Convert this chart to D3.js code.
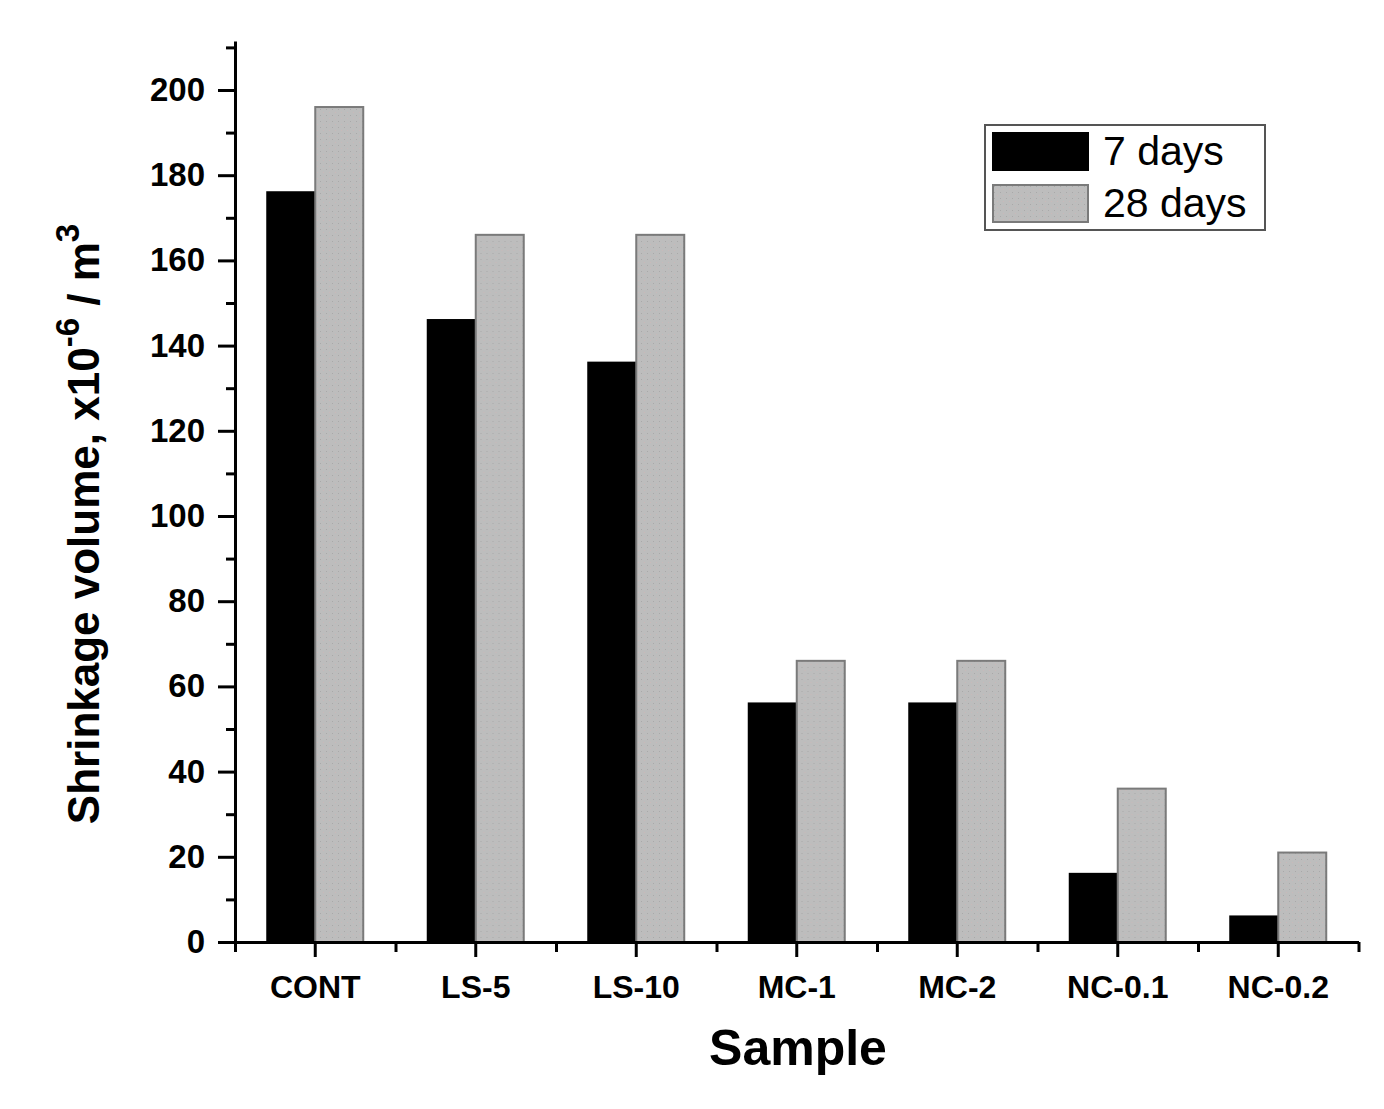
<!DOCTYPE html>
<html>
<head>
<meta charset="utf-8">
<script src="https://cdn.jsdelivr.net/npm/d3@7"></script>
<style>
  body { margin: 0; background: #fff; }
  svg text { font-family: "Liberation Sans", Arial, sans-serif; }
</style>
</head>
<body>
<div id="chart-area"></div>
<script>
/*
*    shrinkage bar chart
*/

var categories = ["CONT", "LS-5", "LS-10", "MC-1", "MC-2", "NC-0.1", "NC-0.2"];
var series = ["7 days", "28 days"];
var days7 = [176, 146, 136, 56, 56, 16, 6];
var days28 = [196, 166, 166, 66, 66, 36, 21];
var yMajorTicks = [0, 20, 40, 60, 80, 100, 120, 140, 160, 180, 200];
var yMinorTicks = [10, 30, 50, 70, 90, 110, 130, 150, 170, 190, 210];

var svg = d3.select("#chart-area").append("svg")
    .attr("width", 1384)
    .attr("height", 1109);

// dotted grey fill, like the original
var defs = svg.append("defs");
var pat = defs.append("pattern")
    .attr("id", "dots")
    .attr("width", 6)
    .attr("height", 6)
    .attr("patternUnits", "userSpaceOnUse");
pat.append("rect").attr("width", 6).attr("height", 6).attr("fill", "#bdbdbd");
pat.append("rect").attr("x", 1).attr("y", 1).attr("width", 1).attr("height", 1).attr("fill", "#a9a9a9");
pat.append("rect").attr("x", 4).attr("y", 4).attr("width", 1).attr("height", 1).attr("fill", "#c9b9b9");

var colors = ["#000000", "url(#dots)"];
var strokes = ["#000000", "#7a7a7a"];

var plotLeft = 235, plotRight = 1358.5, plotTop = 41, plotBottom = 942;

var y = d3.scaleLinear().domain([0, 211.5]).range([plotBottom, plotTop]);
var x = d3.scaleBand().domain(categories).range([plotLeft, plotRight]).padding(0);
var xSub = d3.scaleBand().domain(series).range([0, x.bandwidth()])
    .paddingInner(0).paddingOuter(0.672);
var xEdge = d3.scaleLinear().domain([0, categories.length]).range([plotLeft, plotRight]);

var rows = categories.map((c, i) => ({ cat: c, vals: [days7[i], days28[i]] }));

// bars
var groups = svg.selectAll("g.cat").data(rows).enter().append("g")
    .attr("class", "cat")
    .attr("transform", d => "translate(" + x(d.cat) + ",0)");

groups.selectAll("rect")
    .data(d => d.vals.map((v, j) => ({ s: series[j], v: v, j: j })))
    .enter().append("rect")
    .attr("x", d => xSub(d.s))
    .attr("y", d => y(d.v))
    .attr("width", xSub.bandwidth())
    .attr("height", d => y(0) - y(d.v))
    .attr("fill", d => colors[d.j])
    .attr("stroke", d => strokes[d.j])
    .attr("stroke-width", 2);

// y axis
var yAxis = svg.append("g")
    .attr("transform", "translate(" + plotLeft + ",0)")
    .call(d3.axisLeft(y).tickValues(yMajorTicks).tickSize(17).tickSizeOuter(0).tickPadding(13));
yAxis.select(".domain").attr("stroke-width", 3);
yAxis.selectAll(".tick line").attr("stroke-width", 3);
yAxis.selectAll(".tick text")
    .attr("font-size", 33)
    .attr("font-weight", "bold")
    .attr("fill", "#000");

var yMinor = svg.append("g")
    .attr("transform", "translate(" + plotLeft + ",0)")
    .call(d3.axisLeft(y).tickValues(yMinorTicks).tickSize(9).tickFormat(""));
yMinor.select(".domain").remove();
yMinor.selectAll(".tick line").attr("stroke-width", 3);

// x axis
var xAxis = svg.append("g")
    .attr("transform", "translate(0," + plotBottom + ")")
    .call(d3.axisBottom(x).tickSize(15).tickSizeOuter(0).tickPadding(18));
xAxis.select(".domain").attr("stroke-width", 3);
xAxis.selectAll(".tick line").attr("stroke-width", 3);
xAxis.selectAll(".tick text")
    .attr("font-size", 32)
    .attr("font-weight", "bold")
    .attr("fill", "#000");

var xMinor = svg.append("g")
    .attr("transform", "translate(0," + plotBottom + ")")
    .call(d3.axisBottom(xEdge).tickValues(d3.range(0, categories.length + 1)).tickSize(10).tickFormat(""));
xMinor.select(".domain").remove();
xMinor.selectAll(".tick line").attr("stroke-width", 3);

// axis titles
svg.append("text")
    .attr("x", 798)
    .attr("y", 1065)
    .attr("text-anchor", "middle")
    .attr("font-size", 50)
    .attr("font-weight", "bold")
    .text("Sample");

var yt = svg.append("text")
    .attr("transform", "translate(99,524) rotate(-90)")
    .attr("text-anchor", "middle")
    .attr("font-size", 44)
    .attr("font-weight", "bold");
yt.append("tspan").text("Shrinkage volume, x10");
yt.append("tspan").attr("dy", -20).attr("font-size", 33).text("-6");
yt.append("tspan").attr("dy", 20).text(" / m");
yt.append("tspan").attr("dy", -20).attr("font-size", 33).text("3");

// legend
var legend = svg.append("g").attr("transform", "translate(985,125)");
legend.append("rect")
    .attr("width", 280)
    .attr("height", 105)
    .attr("fill", "#fff")
    .attr("stroke", "#555")
    .attr("stroke-width", 2);

var items = legend.selectAll("g.item").data(series).enter().append("g")
    .attr("class", "item")
    .attr("transform", (d, i) => "translate(8," + (8 + i * 52) + ")");
items.append("rect")
    .attr("width", 95)
    .attr("height", 37)
    .attr("fill", (d, i) => colors[i])
    .attr("stroke", (d, i) => strokes[i])
    .attr("stroke-width", 2);
items.append("text")
    .attr("x", 110)
    .attr("y", 32)
    .attr("font-size", 41)
    .text(d => d);
</script>
</body>
</html>
